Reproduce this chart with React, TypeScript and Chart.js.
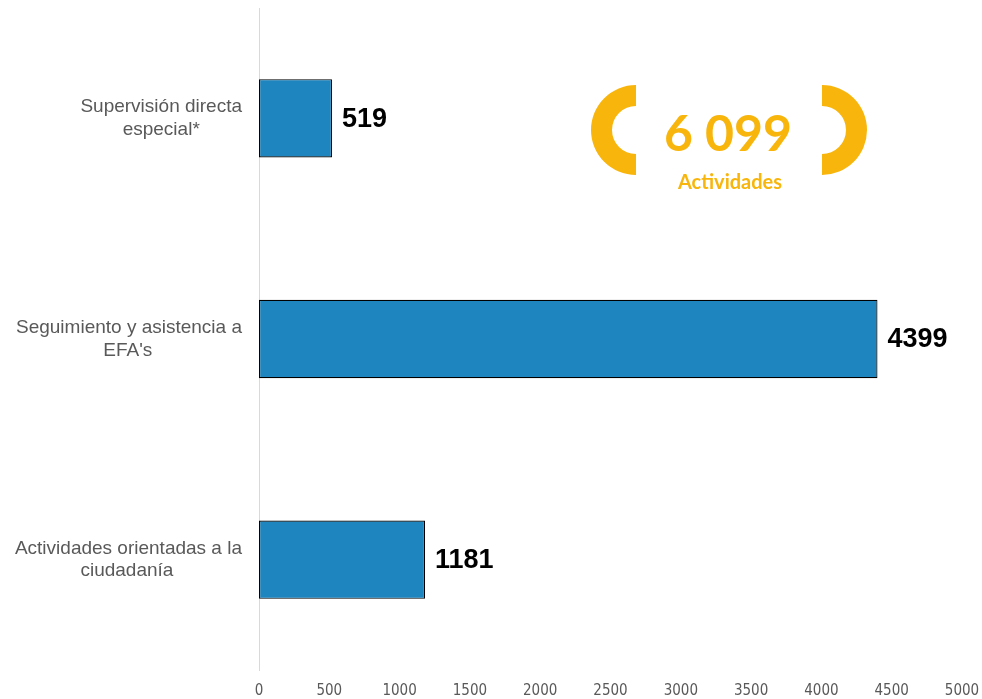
import React, { useEffect, useRef } from 'react';
import { Chart, registerables } from 'chart.js';

Chart.register(...registerables);

const categories: string[][] = [
  ['Supervisión directa', 'especial*'],
  ['Seguimiento y asistencia a', "EFA's"],
  ['Actividades orientadas a la', 'ciudadanía'],
];
const values: number[] = [519, 4399, 1181];
const xMin = 0;
const xMax = 5000;
const xStep = 500;
const totalLabel = '6 099';
const totalCaption = 'Actividades';

const BAR_COLOR = '#1F85BF';
const GOLD = '#F8B50C';
const TICK_GRAY = '#595959';
const CAT_FONT = '19px "Liberation Sans", Arial, sans-serif';

const measureCtx = (() => {
  const c = document.createElement('canvas');
  return c.getContext('2d') as CanvasRenderingContext2D;
})();

function centerLines(lines: string[]): string[] {
  measureCtx.font = CAT_FONT;
  const widths = lines.map((l) => measureCtx.measureText(l).width);
  const maxW = Math.max(...widths);
  const sp = measureCtx.measureText(' ').width || 5;
  return lines.map((l, i) => {
    const n = Math.round((maxW - widths[i]) / 2 / sp);
    return l + ' '.repeat(Math.max(0, n));
  });
}

const valueLabels = {
  id: 'valueLabels',
  afterDatasetsDraw(chart: any) {
    const ctx = chart.ctx;
    const meta = chart.getDatasetMeta(0);
    ctx.save();
    ctx.font = 'bold 27px "Liberation Sans", Arial, sans-serif';
    ctx.fillStyle = '#000';
    ctx.textAlign = 'left';
    ctx.textBaseline = 'middle';
    meta.data.forEach((bar: any, i: number) => {
      ctx.fillText(String(values[i]), bar.x + 10, bar.y + 1);
    });
    ctx.restore();
  },
};

const badge = {
  id: 'badge',
  afterDraw(chart: any) {
    const ctx = chart.ctx;
    ctx.save();
    ctx.fillStyle = GOLD;
    const cy = 130;
    const ro = 45;
    const ri = 24;
    let cx = 636;
    ctx.beginPath();
    ctx.arc(cx, cy, ro, Math.PI / 2, (3 * Math.PI) / 2);
    ctx.arc(cx, cy, ri, (3 * Math.PI) / 2, Math.PI / 2, true);
    ctx.closePath();
    ctx.fill();
    cx = 822;
    ctx.beginPath();
    ctx.arc(cx, cy, ro, -Math.PI / 2, Math.PI / 2);
    ctx.arc(cx, cy, ri, Math.PI / 2, -Math.PI / 2, true);
    ctx.closePath();
    ctx.fill();
    ctx.textAlign = 'center';
    ctx.textBaseline = 'alphabetic';
    ctx.font = 'bold 50px Lato, "Open Sans", sans-serif';
    ctx.fillText(totalLabel, 728, 151);
    ctx.font = 'bold 20px Lato, "Open Sans", sans-serif';
    ctx.fillText(totalCaption, 730, 189);
    ctx.restore();
  },
};

export default function App() {
  const ref = useRef<HTMLCanvasElement | null>(null);
  useEffect(() => {
    if (!ref.current) return;
    const chart = new Chart(ref.current, {
      type: 'bar',
      data: {
        labels: categories,
        datasets: [
          {
            data: values,
            backgroundColor: BAR_COLOR,
            borderColor: '#000',
            borderWidth: 1.2,
            borderSkipped: false,
            categoryPercentage: 1,
            barPercentage: 0.355,
          },
        ],
      },
      options: {
        indexAxis: 'y',
        animation: false,
        responsive: true,
        maintainAspectRatio: false,
        layout: { padding: { top: 8, right: 20, left: 0, bottom: 0 } },
        plugins: {
          legend: { display: false },
          tooltip: { enabled: false },
        },
        scales: {
          x: {
            min: xMin,
            max: xMax,
            grid: { display: false, drawTicks: false },
            border: { display: false },
            ticks: {
              stepSize: xStep,
              color: TICK_GRAY,
              padding: 12,
              maxRotation: 0,
              font: { family: '"Liberation Sans Narrow", "DejaVu Sans Condensed", sans-serif', size: 15 },
              callback(value: any) {
                return String(value);
              },
            },
            afterFit(scale: any) {
              scale.height = 29;
              scale.paddingLeft = 0;
              scale.paddingRight = 0;
            },
          },
          y: {
            grid: { display: false, drawTicks: false },
            border: { display: true, color: '#D9D9D9', width: 1 },
            ticks: {
              color: TICK_GRAY,
              padding: 17,
              font: { family: '"Liberation Sans", Arial, sans-serif', size: 19, lineHeight: 1.2 },
              callback(this: any, value: any) {
                const lbl = this.getLabelForValue(value);
                return Array.isArray(lbl) ? centerLines(lbl) : lbl;
              },
            },
            afterFit(scale: any) {
              scale.width = 259;
              scale.paddingTop = 0;
              scale.paddingBottom = 0;
            },
          },
        },
      },
      plugins: [valueLabels, badge],
    });
    return () => chart.destroy();
  }, []);
  return (
    <div style={{ position: 'fixed', left: 0, top: 0, width: 982, height: 699, background: '#fff' }}>
      <canvas ref={ref} />
    </div>
  );
}
